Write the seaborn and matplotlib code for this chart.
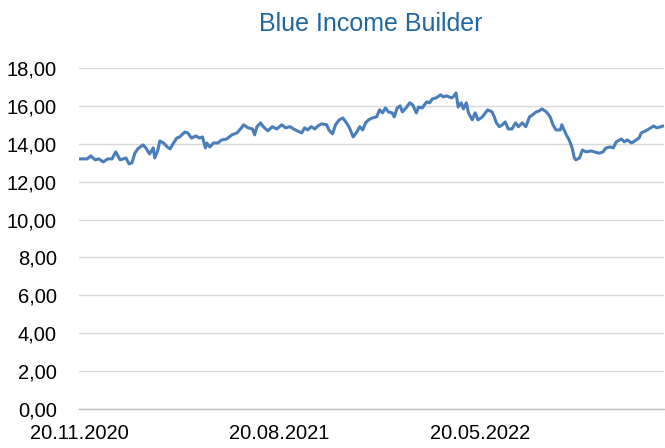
import pandas as pd
import matplotlib.pyplot as plt
import matplotlib.dates as mdates
from matplotlib.ticker import FuncFormatter
import seaborn as sns

sns.set_style("white")
plt.rcParams["font.family"] = ["Liberation Sans", "DejaVu Sans"]

# Price series
dates = [
    "2020-11-20", "2020-12-01", "2020-12-06", "2020-12-12", "2020-12-17", "2020-12-23",
    "2020-12-29", "2021-01-04", "2021-01-09", "2021-01-15", "2021-01-19", "2021-01-23",
    "2021-01-27", "2021-01-31", "2021-02-04", "2021-02-08", "2021-02-15", "2021-02-19",
    "2021-02-24", "2021-03-01", "2021-03-03", "2021-03-07", "2021-03-10", "2021-03-15",
    "2021-03-20", "2021-03-24", "2021-03-28", "2021-04-02", "2021-04-06", "2021-04-13",
    "2021-04-17", "2021-04-22", "2021-04-28", "2021-05-03", "2021-05-07", "2021-05-11",
    "2021-05-13", "2021-05-17", "2021-05-22", "2021-05-28", "2021-06-02", "2021-06-09",
    "2021-06-16", "2021-06-23", "2021-06-29", "2021-07-02", "2021-07-08", "2021-07-14",
    "2021-07-17", "2021-07-20", "2021-07-25", "2021-07-29", "2021-08-04", "2021-08-10",
    "2021-08-16", "2021-08-23", "2021-08-28", "2021-09-03", "2021-09-08", "2021-09-13",
    "2021-09-19", "2021-09-23", "2021-09-27", "2021-10-02", "2021-10-07", "2021-10-11",
    "2021-10-16", "2021-10-23", "2021-10-26", "2021-10-31", "2021-11-04", "2021-11-09",
    "2021-11-14", "2021-11-19", "2021-11-23", "2021-11-28", "2021-12-03", "2021-12-07",
    "2021-12-11", "2021-12-15", "2021-12-19", "2021-12-24", "2021-12-30", "2022-01-03",
    "2022-01-07", "2022-01-11", "2022-01-15", "2022-01-20", "2022-01-23", "2022-01-27",
    "2022-01-31", "2022-02-03", "2022-02-08", "2022-02-13", "2022-02-17", "2022-02-22",
    "2022-02-25", "2022-03-02", "2022-03-08", "2022-03-12", "2022-03-16", "2022-03-21",
    "2022-03-27", "2022-03-31", "2022-04-04", "2022-04-11", "2022-04-13", "2022-04-17",
    "2022-04-20", "2022-04-24", "2022-04-27", "2022-05-01", "2022-05-04", "2022-05-09",
    "2022-05-13", "2022-05-17", "2022-05-23", "2022-05-30", "2022-06-05", "2022-06-08",
    "2022-06-11", "2022-06-15", "2022-06-19", "2022-06-23", "2022-06-27", "2022-07-02",
    "2022-07-07", "2022-07-11", "2022-07-16", "2022-07-21", "2022-07-26", "2022-07-30",
    "2022-08-04", "2022-08-08", "2022-08-12", "2022-08-18", "2022-08-23", "2022-08-27",
    "2022-08-31", "2022-09-06", "2022-09-08", "2022-09-14", "2022-09-18", "2022-09-22",
    "2022-09-25", "2022-09-27", "2022-10-02", "2022-10-06", "2022-10-11", "2022-10-18",
    "2022-10-22", "2022-10-29", "2022-11-03", "2022-11-07", "2022-11-13", "2022-11-17",
    "2022-11-21", "2022-11-28", "2022-12-02", "2022-12-06", "2022-12-12", "2022-12-18",
    "2022-12-22", "2022-12-25", "2022-12-31", "2023-01-07", "2023-01-11", "2023-01-15",
    "2023-01-21", "2023-01-24",
]
prices = [
    13.20, 13.20, 13.36, 13.15, 13.20, 13.04,
    13.20, 13.20, 13.57, 13.15, 13.20, 13.25,
    12.94, 12.99, 13.50, 13.73, 13.94, 13.78,
    13.46, 13.78, 13.25, 13.62, 14.15, 14.04,
    13.83, 13.73, 14.00, 14.30, 14.36, 14.62,
    14.57, 14.30, 14.41, 14.30, 14.36, 13.78,
    14.04, 13.83, 14.04, 14.04, 14.20, 14.25,
    14.47, 14.57, 14.84, 15.00, 14.84, 14.78,
    14.47, 14.89, 15.10, 14.89, 14.68, 14.90,
    14.78, 15.00, 14.84, 14.90, 14.78, 14.68,
    14.57, 14.84, 14.73, 14.90, 14.78, 14.94,
    15.05, 15.00, 14.73, 14.52, 15.00, 15.26,
    15.36, 15.10, 14.84, 14.36, 14.62, 14.90,
    14.73, 15.10, 15.26, 15.36, 15.42, 15.79,
    15.63, 15.89, 15.68, 15.63, 15.42, 15.89,
    16.00, 15.68, 15.89, 16.16, 16.05, 15.63,
    15.94, 15.89, 16.21, 16.16, 16.37, 16.42,
    16.58, 16.47, 16.53, 16.42, 16.47, 16.68,
    15.94, 16.16, 15.84, 16.16, 15.63, 15.26,
    15.63, 15.26, 15.42, 15.79, 15.68, 15.42,
    15.10, 14.90, 15.00, 15.15, 14.78, 14.78,
    15.10, 14.90, 15.10, 14.90, 15.42, 15.52,
    15.68, 15.73, 15.84, 15.68, 15.42, 15.00,
    14.73, 14.73, 15.00, 14.47, 14.20, 13.78,
    13.25, 13.15, 13.25, 13.67, 13.57, 13.62,
    13.57, 13.50, 13.57, 13.78, 13.83, 13.78,
    14.10, 14.25, 14.10, 14.20, 14.04, 14.20,
    14.30, 14.57, 14.68, 14.84, 14.94, 14.84,
    14.90, 14.94,
]
tick_dates = ["2020-11-20", "2021-08-20", "2022-05-20"]
y_ticks = [0, 2, 4, 6, 8, 10, 12, 14, 16, 18]

df = pd.DataFrame({"date": pd.to_datetime(dates), "price": prices})

fig = plt.figure(figsize=(6.65, 4.48), dpi=100)
ax = fig.add_axes([0.1188, 0.0871, 0.8797, 0.7612])

sns.lineplot(data=df, x="date", y="price", ax=ax, color="#4A7EBB", linewidth=2.2)

ax.set_ylim(0, 18)
ax.set_xlim(pd.Timestamp("2020-11-20"), pd.Timestamp("2023-01-25"))
ax.set_yticks(y_ticks)
ax.yaxis.set_major_formatter(FuncFormatter(lambda v, p: f"{v:.2f}".replace(".", ",")))
ax.set_xticks(pd.to_datetime(tick_dates))
ax.xaxis.set_major_formatter(mdates.DateFormatter("%d.%m.%Y"))

ax.grid(axis="y", color="#D9D9D9", linewidth=1)
ax.set_axisbelow(True)
for s in ["left", "right", "top"]:
    ax.spines[s].set_visible(False)
ax.spines["bottom"].set_color("#BFBFBF")
ax.spines["bottom"].set_linewidth(1)

ax.tick_params(axis="y", length=0, pad=16, labelsize=14.5, labelcolor="black")
ax.tick_params(axis="x", direction="out", length=5, width=1, color="#BFBFBF",
               pad=6, labelsize=14.5, labelcolor="black")
ax.set_xlabel("")
ax.set_ylabel("")

fig.text(0.557, 0.947, "Blue Income Builder", ha="center", va="center",
         fontsize=18, color="#1F66A3")

plt.savefig("out.png", dpi=100)
plt.close()
